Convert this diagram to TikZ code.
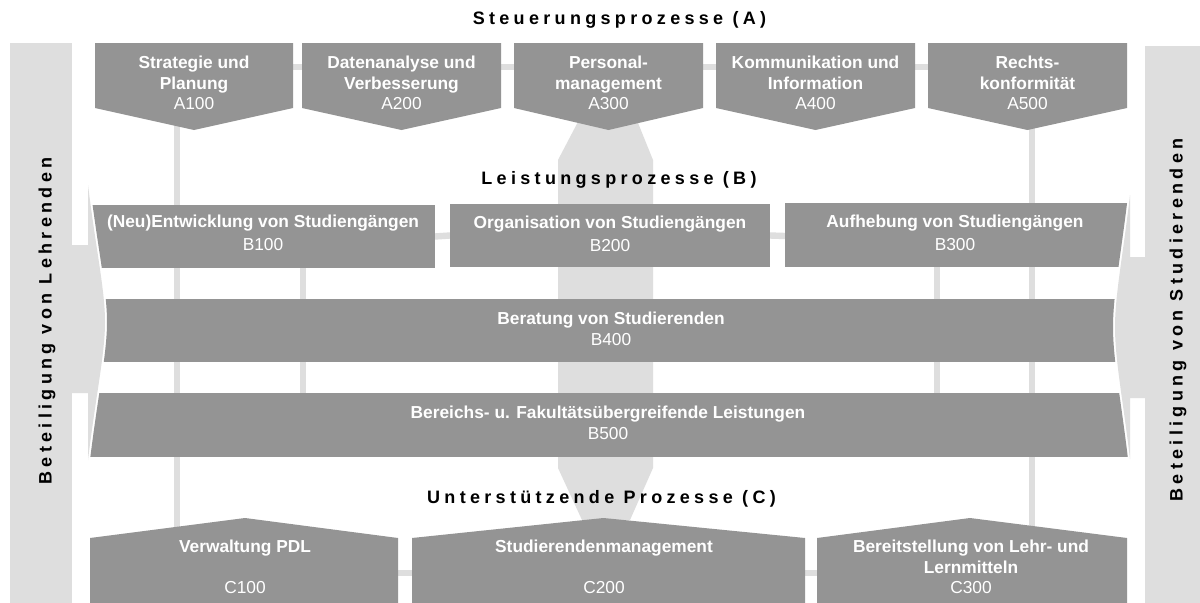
\documentclass[tikz,border=0pt]{standalone}
\usepackage{fontspec}
\setmainfont{Liberation Sans}
\newfontfamily\spacedfont[LetterSpace=24]{Liberation Sans}
\usetikzlibrary{calc,fit}
\definecolor{boxgray}{RGB}{148,148,148}
\definecolor{lightgr}{RGB}{222,222,222}
\pgfdeclarelayer{bgl}
\pgfdeclarelayer{back}
\pgfdeclarelayer{mid}
\pgfsetlayers{bgl,back,mid,main}
\begin{document}
\begin{tikzpicture}[x=0.75pt,y=-0.75pt,
  region/.style={inner sep=0pt, outer sep=0pt},
  boxtext/.style={align=center, text=white, inner sep=0pt,
    font=\fontsize{13}{15.4}\selectfont\bfseries},
  conn/.style={draw=lightgr, line width=4.8pt},
  darkfill/.style={fill=boxgray},
  lightfill/.style={fill=lightgr},
  title/.style={inner sep=0pt, text=black,
    font=\spacedfont\fontsize{13.5}{16}\selectfont\bfseries}]
\begin{pgfonlayer}{bgl}
\fill[white] (0,0) rectangle (1200,603);
\end{pgfonlayer}
\useasboundingbox (0,0) rectangle (1200,603);

% ---------- regions (named nodes) ----------
\node[region, fit={(10,43) (72,603)}] (LB) {};
\node[region, fit={(1145,46) (1200,603)}] (RB) {};

\node[region, fit={(95,43) (293,108)}] (A100) {};
\node[region, fit={(302,43) (501,108)}] (A200) {};
\node[region, fit={(514,43) (703,108)}] (A300) {};
\node[region, fit={(716,43) (915,108)}] (A400) {};
\node[region, fit={(928,43) (1127,108)}] (A500) {};

\node[region, fit={(92,205) (435,268)}] (B100) {};
\node[region, fit={(450,204) (770,267)}] (B200) {};
\node[region, fit={(785,203) (1126,267)}] (B300) {};
\node[region, fit={(100,299) (1117,362)}] (B400) {};
\node[region, fit={(92,393) (1126,457)}] (B500) {};

\node[region, fit={(90,538) (398,603)}] (C100) {};
\node[region, fit={(412,538) (805,603)}] (C200) {};
\node[region, fit={(817,538) (1127,603)}] (C300) {};

% ---------- back layer: light grey bars, arrows, connectors ----------
\begin{pgfonlayer}{back}
\fill[lightfill] (LB.north west) rectangle (LB.south east);
\fill[lightfill] (RB.north west) rectangle (RB.south east);
% left arrow
\fill[lightfill] (72,245) -- (88,245) -- (88,185)
  .. controls (96,250) and (105,290) .. (105,322)
  .. controls (105,354) and (96,394) .. (88,460)
  -- (88,393) -- (72,393) -- cycle;
% right arrow
\fill[lightfill] (1145,257) -- (1130,257) -- (1130,195)
  .. controls (1123,255) and (1115,295) .. (1115,327)
  .. controls (1115,360) and (1123,400) .. (1130,459)
  -- (1130,398) -- (1145,398) -- cycle;
% central band A300 -> C200
\fill[lightfill] (580,118) -- (636,118) -- (653,160) -- (653,468)
  -- (630,520) -- (582,520) -- (558,468) -- (558,160) -- cycle;
% connectors
\draw[conn] ($(A100.north east)+(0,24)$) -- ($(A500.north west)+(0,24)$);
\draw[conn] ($(A100.south west)+(82,0)$) -- ($(C100.north west)+(87,0)$);
\draw[conn] ($(A500.south west)+(104,0)$) -- ($(C300.north west)+(215,0)$);
\draw[conn] ($(B100.south west)+(211,0)$) -- ($(B500.north west)+(211,0)$);
\draw[conn] ($(B300.south west)+(152,0)$) -- ($(B500.north west)+(845,0)$);
\draw[conn] (B100.east) -- (B200.west);
\draw[conn] (B200.east) -- ($(B300.west)+(0,1)$);
\draw[conn] ($(C100.east)+(0,2.5)$) -- ($(C200.west)+(0,2.5)$);
\draw[conn] ($(C200.east)+(0,2.5)$) -- ($(C300.west)+(0,2.5)$);
\end{pgfonlayer}

% ---------- mid layer: dark boxes ----------
\begin{pgfonlayer}{mid}
\foreach \n in {A100,A200,A300,A400,A500}{
  \fill[darkfill] (\n.north west) -- (\n.north east) -- (\n.south east)
    -- ($(\n.south)+(0,22)$) -- (\n.south west) -- cycle;
}
\fill[darkfill] (C100.south west) -- (C100.north west) -- ($(C100.north)+(1,-20)$)
  -- (C100.north east) -- (C100.south east) -- cycle;
\fill[darkfill] (C200.south west) -- (C200.north west) -- ($(C200.north)+(-5,-20)$)
  -- (C200.north east) -- (C200.south east) -- cycle;
\fill[darkfill] (C300.south west) -- (C300.north west) -- ($(C300.north)+(-2,-20)$)
  -- (C300.north east) -- (C300.south east) -- cycle;
\begin{scope}
\clip (80,150) -- (90,150) -- (90,185)
  .. controls (98,250) and (107,290) .. (107,322)
  .. controls (107,354) and (98,394) .. (90,460)
  -- (90,520) -- (1128,520) -- (1128,459)
  .. controls (1121,400) and (1113,360) .. (1113,327)
  .. controls (1113,295) and (1121,255) .. (1128,195)
  -- (1128,150) -- cycle;
\fill[darkfill] ([xshift=-10pt]B100.north west) rectangle (B100.south east);
\fill[darkfill] (B200.north west) rectangle (B200.south east);
\fill[darkfill] (B300.north west) rectangle ([xshift=10pt]B300.south east);
\fill[darkfill] ([xshift=-15pt]B400.north west) rectangle ([xshift=15pt]B400.south east);
\fill[darkfill] ([xshift=-15pt]B500.north west) rectangle ([xshift=15pt]B500.south east);
\end{scope}
\end{pgfonlayer}

% ---------- texts ----------
\node[title] (TA) at (619.5,20) {Steuerungsprozesse (A)};
\node[title] (TB) at (619,180) {Leistungsprozesse (B)};
\node[title] (TC) at (601.5,499) {Unterstützende Prozesse (C)};
\node[title, rotate=90] (LT) at (47,321) {Beteiligung von Lehrenden};
\node[title, rotate=90] (RT) at (1178,320) {Beteiligung von Studierenden};

\node[boxtext] (A100t) at (194,83) {Strategie und\\Planung\\{\mdseries A100}};
\node[boxtext] (A200t) at (401.5,83) {Datenanalyse und\\Verbesserung\\{\mdseries A200}};
\node[boxtext] (A300t) at (608.5,83) {Personal-\\management\\{\mdseries A300}};
\node[boxtext] (A400t) at (815.5,83) {Kommunikation und\\Information\\{\mdseries A400}};
\node[boxtext] (A500t) at (1027.5,83) {Rechts-\\konformität\\{\mdseries A500}};

\node[boxtext] (B100t) at (263,233) {(Neu)Entwicklung von Studiengängen\\[2pt]{\mdseries B100}};
\node[boxtext] (B200t) at (610,234) {Organisation von Studiengängen\\[2pt]{\mdseries B200}};
\node[boxtext] (B300t) at (955,233) {Aufhebung von Studiengängen\\[2pt]{\mdseries B300}};
\node[boxtext] (B400t) at (611,329) {Beratung von Studierenden\\{\mdseries B400}};
\node[boxtext] (B500t) at (608,423) {Bereichs- u. Fakultätsübergreifende Leistungen\\{\mdseries B500}};

\node[boxtext] (C100t) at (245,567) {Verwaltung PDL\\[15.5pt]{\mdseries C100}};
\node[boxtext] (C200t) at (604,567) {Studierendenmanagement\\[15.5pt]{\mdseries C200}};
\node[boxtext] (C300t) at (971,567) {Bereitstellung von Lehr- und\\Lernmitteln\\{\mdseries C300}};
\end{tikzpicture}
\end{document}
